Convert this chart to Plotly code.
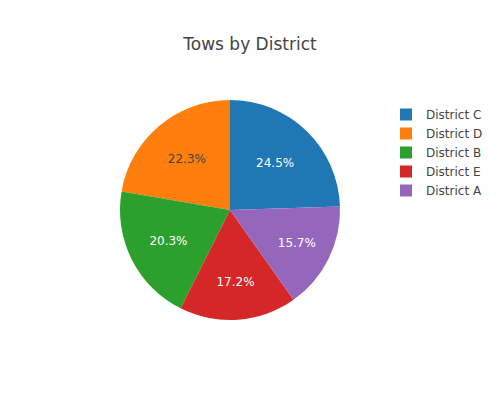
import plotly.graph_objects as go

districts = ["District C", "District D", "District B", "District E", "District A"]
tows = [245, 223, 203, 172, 157]

fig = go.Figure(go.Pie(labels=districts, values=tows, textinfo="percent"))
fig.update_layout(
    template="none",
    title=dict(text="Tows by District"),
    font=dict(family="DejaVu Sans"),
    width=500, height=400,
)
fig.write_html(
    "out.html",
    config={"displayModeBar": False},
    post_script="document.body.style.margin='0px';",
)
